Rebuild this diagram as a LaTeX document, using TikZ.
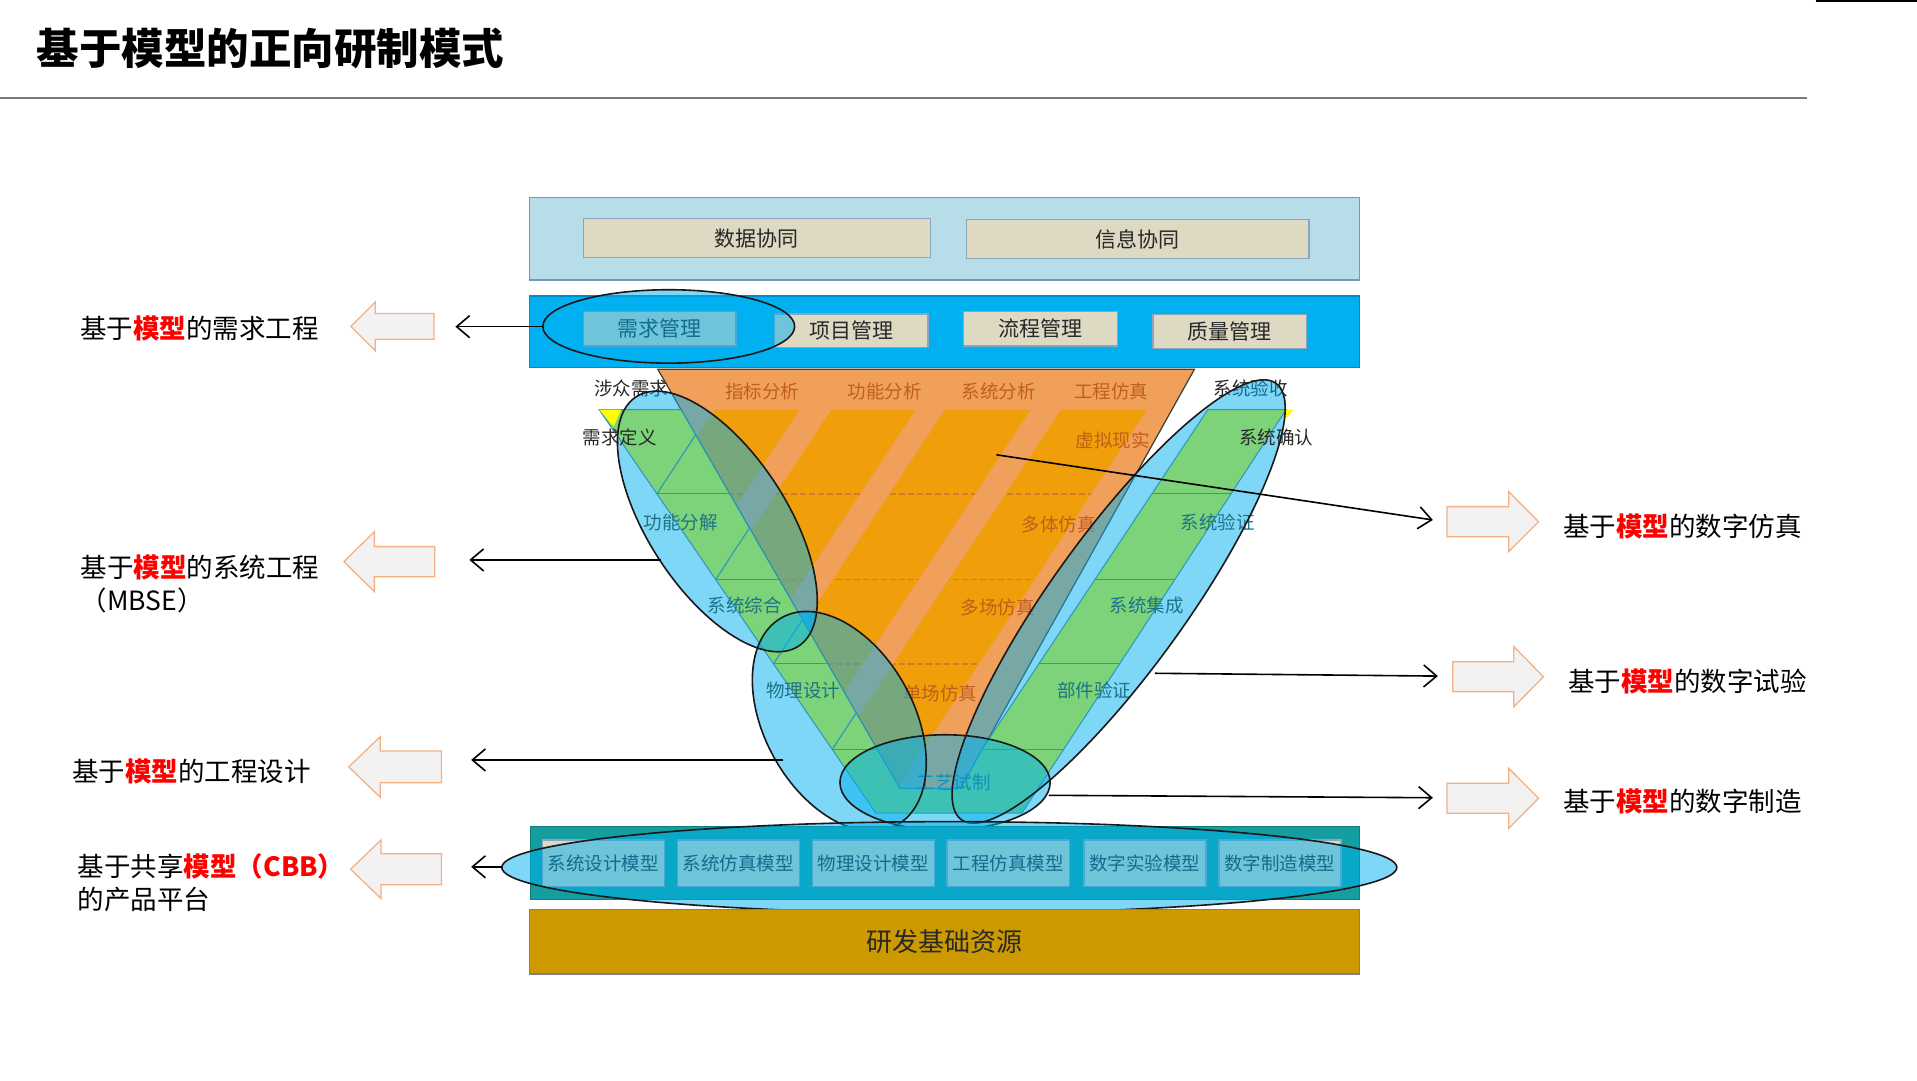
\documentclass[tikz,border=0pt]{standalone}
\usepackage{fontspec}
\setmainfont{Noto Sans CJK SC}
\usetikzlibrary{arrows.meta}
\definecolor{topbox}{RGB}{183,222,232}
\definecolor{topedge}{RGB}{120,150,185}
\definecolor{beige}{RGB}{221,217,195}
\definecolor{beigeedge}{RGB}{140,165,190}
\definecolor{bband}{RGB}{0,176,240}
\definecolor{bbandedge}{RGB}{0,140,200}
\definecolor{lorange}{RGB}{240,160,90}
\definecolor{dorange}{RGB}{240,158,10}
\definecolor{dashc}{RGB}{215,120,50}
\definecolor{vgreen}{RGB}{125,211,122}
\definecolor{tealline}{RGB}{45,150,185}
\definecolor{tband}{RGB}{20,158,160}
\definecolor{gold}{RGB}{204,153,0}
\definecolor{aedge}{RGB}{244,177,131}
\definecolor{afill}{RGB}{242,242,242}
\definecolor{otext}{RGB}{190,95,30}
\definecolor{gtext}{RGB}{30,115,135}
\definecolor{dtext}{RGB}{40,40,40}
\definecolor{sepc}{RGB}{120,120,120}
\definecolor{vyellow}{RGB}{255,255,0}
\definecolor{eline}{RGB}{25,25,25}
\definecolor{lred}{RGB}{255,0,0}
\begin{document}
\begin{tikzpicture}[x=1.2226pt,y=-1.2226pt,
  bigtxt/.style={inner sep=0pt,anchor=west,text=black,font=\fontsize{26.5}{30}\selectfont},
  boxtxt/.style={inner sep=0pt,text=dtext,font=\fontsize{21}{24}\selectfont},
  vtxt/.style={inner sep=0pt,font=\fontsize{18.5}{20}\selectfont},
  mtxt/.style={inner sep=0pt,text=dtext,font=\fontsize{18.5}{20}\selectfont},
  bbox/.style={draw=beigeedge,fill=beige,line width=1.3pt},
  efill/.style={fill=bband,fill opacity=0.5},
  eout/.style={draw=eline,line width=1.6pt},
  conn/.style={draw=black,line width=1.6pt,-{Straight Barb[length=13pt,width=22pt]}},
  barrow/.style={draw=aedge,fill=afill,line width=1.3pt},
  rowl/.style={draw=tealline,line width=1.1pt},
]
\useasboundingbox (0,0) rectangle (1568,883.4);
\fill[white] (0,0) rectangle (1568,883.4);

% title
\node[anchor=west,inner sep=0pt,font=\fontsize{42.5}{46}\selectfont\bfseries] (title) at (30,40) {基于模型的正向研制模式};
\draw[sepc,line width=2pt] (0,80) -- (1478,80);
\draw[black,line width=2.5pt] (1485,1) -- (1568,1);

% top box
\draw[draw=topedge,fill=topbox,line width=1.2pt] (433.2,161.4) rectangle (1112,229);
\draw[bbox] (477,178.6) rectangle (761,210.8);
\node[boxtxt] (sjxt) at (619,194.7) {数据协同};
\draw[bbox] (790.3,179.4) rectangle (1070.7,211.6);
\node[boxtxt] (xxxt) at (930.5,195.5) {信息协同};

% blue band
\draw[draw=bbandedge,fill=bband,line width=1.2pt] (433.2,242.1) rectangle (1112,300.7);
\draw[bbox] (477,254.9) rectangle (602,283);
\node[boxtxt] (xqgl) at (539.5,269) {需求管理};
\draw[bbox] (633.4,256.8) rectangle (759.1,284.1);
\node[boxtxt] (xmgl) at (696.25,270.45) {项目管理};
\draw[bbox] (788.1,254.9) rectangle (913.8,283);
\node[boxtxt] (lcgl) at (851,269) {流程管理};
\draw[bbox] (943.2,257.4) rectangle (1068.5,284.9);
\node[boxtxt] (zlgl) at (1005.85,271.15) {质量管理};
\fill[efill] (547,267) ellipse [x radius=125.9pt,y radius=36.7pt];
\draw[eout] (547,267) ellipse [x radius=125.9pt,y radius=36.7pt];

% orange trapezoid
\fill[lorange] (538,302) -- (977,302) -- (785.6,645) -- (736,645) -- cycle;
\begin{scope}
  \clip (538,302) -- (977,302) -- (785.6,645) -- (736,645) -- cycle;
  \fill[dorange] (585,335) -- (654,335) -- (439.5,660) -- (370.5,660) -- cycle
    (680,335) -- (749,335) -- (534.5,660) -- (465.5,660) -- cycle
    (773,335) -- (843,335) -- (628.5,660) -- (558.5,660) -- cycle
    (868,335) -- (938,335) -- (723.5,660) -- (653.5,660) -- cycle;
  \clip (585,335) -- (654,335) -- (439.5,660) -- (370.5,660) -- cycle
    (680,335) -- (749,335) -- (534.5,660) -- (465.5,660) -- cycle
    (773,335) -- (843,335) -- (628.5,660) -- (558.5,660) -- cycle
    (868,335) -- (938,335) -- (723.5,660) -- (653.5,660) -- cycle;
  \draw[dashc,line width=1.8pt,dash pattern=on 6pt off 3pt]
    (500,404) -- (1000,404) (500,474) -- (1000,474) (500,543) -- (1000,543);
\end{scope}
\draw[draw=eline!85,line width=1.2pt] (538,302) -- (977,302) -- (785.6,645) -- (736,645) -- cycle;

% texts on orange / outside
\node[vtxt,text=dtext] (szxq) at (516.5,318) {涉众需求};
\node[vtxt,text=otext] (zbfx) at (623.5,320) {指标分析};
\node[vtxt,text=otext] (gnfx) at (723.5,320) {功能分析};
\node[vtxt,text=otext] (xtfx) at (817,320) {系统分析};
\node[vtxt,text=otext] (gcfz) at (909,320) {工程仿真};
\node[vtxt,text=dtext] (xtys) at (1023,318) {系统验收};
\node[vtxt,text=otext] (xnxs) at (910,360) {虚拟现实};
\node[vtxt,text=otext] (dtfz) at (866,429) {多体仿真};
\node[vtxt,text=otext] (dcfz) at (816,497) {多场仿真};
\node[vtxt,text=otext] (dcfz1) at (769,567) {单场仿真};

% translucent ellipse fills
\fill[efill,rotate around={-56.9:(586.75,426.5)}] (586.75,426.5) ellipse [x radius=148.8pt,y radius=69.4pt];
\fill[efill,rotate around={-61:(686.5,590)}] (686.5,590) ellipse [x radius=118.6pt,y radius=74.6pt];
\fill[efill,rotate around={54.2:(915,492)}] (915,492) ellipse [x radius=269pt,y radius=67.2pt];

% green V
\fill[vgreen] (490,335) -- (557,335) -- (736,645) -- (785.6,645) -- (805.3,609.8) -- (988,335) -- (1052,335) -- (835.9,665) -- (716.4,665) -- cycle;
\begin{scope}
  \clip (490,335) -- (557,335) -- (736,645) -- (785.6,645) -- (805.3,609.8) -- (988,335) -- (1052,335) -- (835.9,665) -- (716.4,665) -- cycle;
  \draw[rowl] (400,404) -- (1100,404) (400,474) -- (1100,474) (400,543) -- (1100,543) (400,613) -- (1100,613);
  \draw[rowl] (537.3,404) -- (589.7,324) (585.4,474) -- (637.8,394) (632.7,543) -- (685.1,463) (680.7,613) -- (733.1,533);
\end{scope}
\draw[draw=tealline,line width=1pt] (490,335) -- (557,335) -- (736,645) -- (785.6,645) -- (805.3,609.8) -- (988,335) -- (1052,335) -- (835.9,665) -- (716.4,665) -- cycle;
\fill[vyellow] (490,335) -- (508,335) -- (502,349) -- cycle;
\fill[vyellow] (1051,335) -- (1058,335) -- (1051.5,343) -- cycle;

% green texts
\node[vtxt,text=dtext] (xqdy) at (507,358) {需求定义};
\node[vtxt,text=dtext] (xtqr) at (1044,358) {系统确认};
\node[vtxt,text=gtext] (gnfj) at (557,427) {功能分解};
\node[vtxt,text=gtext] (xtyz) at (996,427) {系统验证};
\node[vtxt,text=gtext] (xtzh) at (609,495) {系统综合};
\node[vtxt,text=gtext] (xtjc) at (938,495) {系统集成};
\node[vtxt,text=gtext] (wlsj) at (657,565) {物理设计};
\node[vtxt,text=gtext] (bjyz) at (895,565) {部件验证};
\node[vtxt,text=gtext] (gysz) at (780,640) {工艺试制};

% overlaps
\begin{scope}
  \clip[rotate around={-56.9:(586.75,426.5)}] (586.75,426.5) ellipse [x radius=148.8pt,y radius=69.4pt];
  \fill[efill,rotate around={-61:(686.5,590)}] (686.5,590) ellipse [x radius=118.6pt,y radius=74.6pt];
\end{scope}
\fill[efill] (773,640) ellipse [x radius=105.1pt,y radius=47.7pt];

% outlines
\draw[eout,rotate around={-56.9:(586.75,426.5)}] (586.75,426.5) ellipse [x radius=148.8pt,y radius=69.4pt];
\draw[eout,rotate around={-61:(686.5,590)}] (686.5,590) ellipse [x radius=118.6pt,y radius=74.6pt];
\draw[eout,rotate around={54.2:(915,492)}] (915,492) ellipse [x radius=269pt,y radius=67.2pt];
\draw[eout] (773,640) ellipse [x radius=105.1pt,y radius=47.7pt];

% bottom band
\draw[draw=tband!80!black,fill=tband,line width=1.2pt] (434,676.2) rectangle (1112,735.6);
\draw[bbox] (443.6,687) rectangle (543.3,725.2);
\node[mtxt] (m1) at (493.5,706.1) {系统设计模型};
\draw[bbox] (553.9,687) rectangle (653.8,725.2);
\node[mtxt] (m2) at (603.9,706.1) {系统仿真模型};
\draw[bbox] (664.3,687) rectangle (764.2,725.2);
\node[mtxt] (m3) at (714.3,706.1) {物理设计模型};
\draw[bbox] (774.7,687) rectangle (874.6,725.2);
\node[mtxt] (m4) at (824.7,706.1) {工程仿真模型};
\draw[bbox] (886.6,687) rectangle (986.4,725.2);
\node[mtxt] (m5) at (936.5,706.1) {数字实验模型};
\draw[bbox] (997,687) rectangle (1096.8,725.2);
\node[mtxt] (m6) at (1046.9,706.1) {数字制造模型};
\fill[efill] (776.5,709.5) ellipse [x radius=447.5pt,y radius=45.8pt];
\draw[eout] (776.5,709.5) ellipse [x radius=447.5pt,y radius=45.8pt];

% resource box
\draw[draw=gray,fill=gold,line width=1.2pt] (433.2,743.8) rectangle (1112,796.7);
\node[inner sep=0pt,text=dtext,font=\fontsize{26}{28}\selectfont] (yfzy) at (772.6,770.2) {研发基础资源};

% block arrows (left)
\draw[barrow] (287,267) -- (307,247) -- (307,256.4) -- (355,256.4) -- (355,277.6) -- (307,277.6) -- (307,287) -- cycle;
\draw[barrow] (281.3,459.4) -- (306.2,434.9) -- (306.2,447.1) -- (355.6,447.1) -- (355.6,471.7) -- (306.2,471.7) -- (306.2,483.9) -- cycle;
\draw[barrow] (285.2,627.3) -- (311,602.6) -- (311,614.3) -- (361.2,614.3) -- (361.2,640.3) -- (311,640.3) -- (311,652) -- cycle;
\draw[barrow] (286.8,711) -- (311.7,687) -- (311.7,698.3) -- (361.2,698.3) -- (361.2,723.7) -- (311.7,723.7) -- (311.7,735) -- cycle;
% block arrows (right)
\draw[barrow] (1183.6,414.4) -- (1234,414.4) -- (1234,402.2) -- (1258.4,426.7) -- (1234,451.2) -- (1234,439) -- (1183.6,439) -- cycle;
\draw[barrow] (1188.3,541.3) -- (1238.1,541.3) -- (1238.1,528.8) -- (1262.4,553.5) -- (1238.1,578.2) -- (1238.1,565.7) -- (1188.3,565.7) -- cycle;
\draw[barrow] (1183.6,640.7) -- (1234,640.7) -- (1234,628.4) -- (1258.4,653) -- (1234,677.5) -- (1234,665.2) -- (1183.6,665.2) -- cycle;

% connectors
\coordinate (c1s) at (443.7,267.2); \coordinate (c1e) at (372.5,267.2);
\coordinate (c2s) at (540.6,458);   \coordinate (c2e) at (383.9,458);
\coordinate (c3s) at (640.7,621.6); \coordinate (c3e) at (385.4,621.6);
\coordinate (c4s) at (411,709);     \coordinate (c4e) at (385.4,709);
\coordinate (cas) at (815,372);     \coordinate (cae) at (1172,425.3);
\coordinate (cbs) at (944.7,550.7); \coordinate (cbe) at (1176.1,553);
\coordinate (ccs) at (858,650.5);   \coordinate (cce) at (1172,652.5);
\draw[conn] (c1s) -- (c1e);
\draw[conn] (c2s) -- (c2e);
\draw[conn] (c3s) -- (c3e);
\draw[conn] (c4s) -- (c4e);
\draw[conn] (cas) -- (cae);
\draw[conn] (cbs) -- (cbe);
\draw[conn] (ccs) -- (cce);

% labels left
\node[bigtxt] (lab1) at (65.3,268.6) {基于\textcolor{lred}{\bfseries 模型}的需求工程};
\node[bigtxt] (lab2) at (66,464) {基于\textcolor{lred}{\bfseries 模型}的系统工程};
\node[bigtxt] (lab2b) at (66,490.8) {（MBSE）};
\node[bigtxt] (lab3) at (58.8,631) {基于\textcolor{lred}{\bfseries 模型}的工程设计};
\node[bigtxt] (lab4) at (63.6,709) {基于共享\textcolor{lred}{\bfseries 模型（CBB）}};
\node[bigtxt] (lab4b) at (63.6,736) {的产品平台};
% labels right
\node[bigtxt] (rab1) at (1278.6,430.8) {基于\textcolor{lred}{\bfseries 模型}的数字仿真};
\node[bigtxt] (rab2) at (1282.7,557.6) {基于\textcolor{lred}{\bfseries 模型}的数字试验};
\node[bigtxt] (rab3) at (1278.6,655.7) {基于\textcolor{lred}{\bfseries 模型}的数字制造};
\end{tikzpicture}
\end{document}
